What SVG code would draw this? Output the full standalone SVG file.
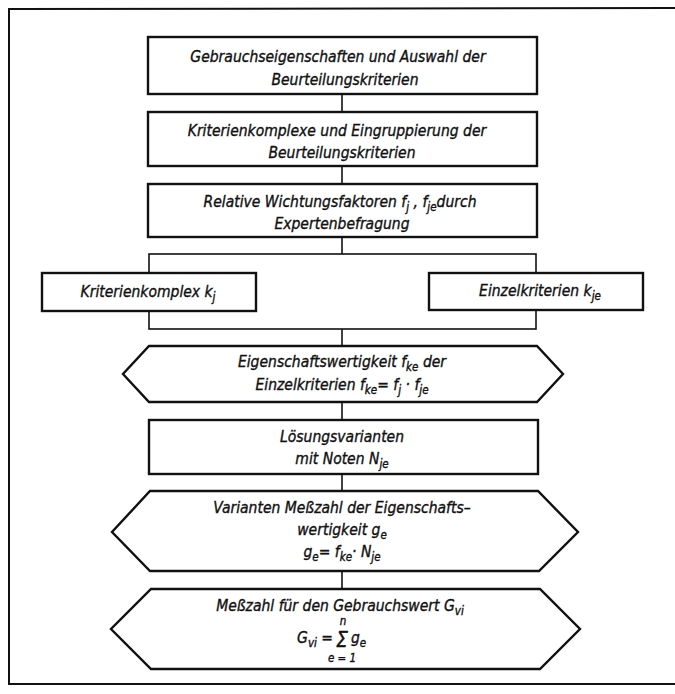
<svg xmlns="http://www.w3.org/2000/svg" width="675" height="694" viewBox="0 0 675 694">
<style>
.b{fill:#fff;stroke:#111;stroke-width:2.4}
.c{fill:none;stroke:#111;stroke-width:1.6}
.f{fill:none;stroke:#111;stroke-width:2}
text{font-family:"DejaVu Sans Condensed","DejaVu Sans",sans-serif;font-style:italic;font-size:15.5px;fill:#111;stroke:#111;stroke-width:0.35;text-anchor:middle}
.s{font-size:11.5px}
.l{text-anchor:start}
.r{text-anchor:end}
.sig{font-size:21px}
</style>
<rect width="675" height="694" fill="#fff"/>
<g id="frame">
<path class="f" d="M675 8 L9 9 L9 684 L675 684"/>
</g>
<g id="connectors">
<line class="c" x1="342" y1="94" x2="342" y2="112"/>
<line class="c" x1="342" y1="166" x2="342" y2="184"/>
<line class="c" x1="342" y1="237" x2="342" y2="254"/>
<rect class="c" x="149" y="254" width="387" height="75"/>
<line class="c" x1="342" y1="329" x2="342" y2="346"/>
<line class="c" x1="342" y1="402" x2="342" y2="420"/>
<line class="c" x1="342" y1="474" x2="342" y2="491"/>
<line class="c" x1="342" y1="571" x2="342" y2="589"/>
</g>
<g id="n1">
<rect class="b" x="148" y="37" width="389" height="57"/>
<text x="338" y="62">Gebrauchseigenschaften und Auswahl der</text>
<text x="345" y="85">Beurteilungskriterien</text>
</g>
<g id="n2">
<rect class="b" x="148" y="112" width="389" height="54"/>
<text x="337" y="136">Kriterienkomplexe und Eingruppierung der</text>
<text x="342" y="158">Beurteilungskriterien</text>
</g>
<g id="n3">
<rect class="b" x="148" y="184" width="389" height="53"/>
<text x="340" y="207">Relative Wichtungsfaktoren f<tspan class="s" dy="4">j</tspan><tspan dy="-4"> , f</tspan><tspan class="s" dy="4">je</tspan><tspan dy="-4">durch</tspan></text>
<text x="342" y="229">Expertenbefragung</text>
</g>
<g id="n4">
<rect class="b" x="42" y="273" width="214" height="38"/>
<text x="148" y="297">Kriterienkomplex k<tspan class="s" dy="4">j</tspan></text>
</g>
<g id="n5">
<rect class="b" x="429" y="273" width="214" height="37"/>
<text x="540" y="296">Einzelkriterien k<tspan class="s" dy="4">je</tspan></text>
</g>
<g id="n6">
<polygon class="b" points="149,346 537,346 563,374 537,402 149,402 123,374"/>
<text x="342" y="367">Eigenschaftswertigkeit f<tspan class="s" dy="4">ke</tspan><tspan dy="-4"> der</tspan></text>
<text x="342" y="390">Einzelkriterien f<tspan class="s" dy="4">ke</tspan><tspan dy="-4">= f</tspan><tspan class="s" dy="4">j</tspan><tspan dy="-4"> · f</tspan><tspan class="s" dy="4">je</tspan></text>
</g>
<g id="n7">
<rect class="b" x="149" y="420" width="389" height="54"/>
<text x="342" y="442">Lösungsvarianten</text>
<text x="342" y="464">mit Noten N<tspan class="s" dy="4">je</tspan></text>
</g>
<g id="n8">
<polygon class="b" points="150,491 538,491 578,532 539,571 150,571 112,532"/>
<text x="342" y="513">Varianten Meßzahl der Eigenschafts–</text>
<text x="342" y="535">wertigkeit g<tspan class="s" dy="4">e</tspan></text>
<text x="342" y="557">g<tspan class="s" dy="4">e</tspan><tspan dy="-4">= f</tspan><tspan class="s" dy="4">ke</tspan><tspan dy="-4">· N</tspan><tspan class="s" dy="4">je</tspan></text>
</g>
<g id="n9">
<polygon class="b" points="151,589 540,589 580,629 540,669 151,669 111,629"/>
<text x="340" y="611">Meßzahl für den Gebrauchswert G<tspan class="s" dy="4">vi</tspan></text>
<text class="r" x="333" y="643">G<tspan class="s" dy="4">vi</tspan><tspan dy="-4"> =</tspan></text>
<text class="sig" x="342" y="647">Σ</text>
<text class="l" x="351" y="643">g<tspan class="s" dy="4">e</tspan></text>
<text class="s" x="343" y="625">n</text>
<text class="s" x="342" y="662">e = 1</text>
</g>
</svg>
